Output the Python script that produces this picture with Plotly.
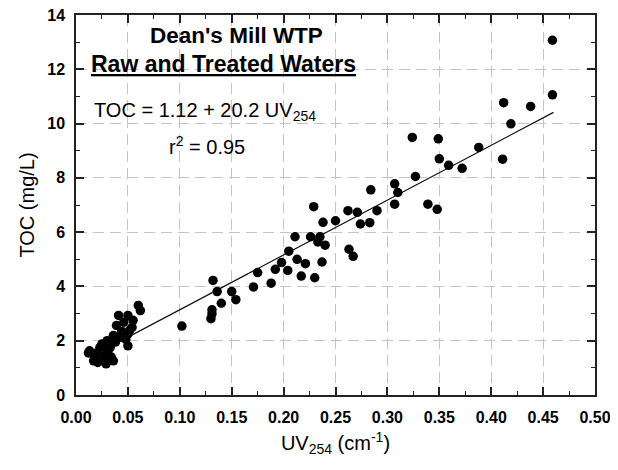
import plotly.graph_objects as go

# Measured data (UV254 in cm^-1, TOC in mg/L)
uv254 = [
    0.012, 0.013, 0.017, 0.018, 0.020, 0.021, 0.023, 0.025, 0.026, 0.027, 0.029,
    0.030, 0.031, 0.033, 0.034, 0.036, 0.036, 0.038, 0.039, 0.041, 0.042, 0.044,
    0.046, 0.048, 0.050, 0.050, 0.050, 0.052, 0.054, 0.055, 0.060, 0.062,
    0.102, 0.130, 0.131, 0.131, 0.132, 0.136, 0.140, 0.150, 0.154, 0.171, 0.175,
    0.188, 0.192, 0.198, 0.204, 0.205, 0.213, 0.217, 0.221, 0.211, 0.226, 0.229,
    0.230, 0.237, 0.235, 0.233, 0.240, 0.238, 0.250, 0.262, 0.263, 0.267, 0.271,
    0.274, 0.283, 0.284, 0.290, 0.307, 0.310, 0.307, 0.324, 0.327, 0.339, 0.348,
    0.349, 0.350, 0.359, 0.372, 0.388, 0.411, 0.412, 0.419, 0.438, 0.459, 0.459,
]
toc = [
    1.55, 1.63, 1.26, 1.35, 1.55, 1.20, 1.75, 1.88, 1.28, 1.45, 1.15,
    2.00, 1.65, 1.75, 1.40, 1.26, 2.19, 1.95, 2.56, 2.93, 2.12, 2.35,
    2.68, 2.05, 2.93, 2.25, 1.81, 2.40, 2.49, 2.75, 3.30, 3.11,
    2.54, 2.81, 2.99, 3.14, 4.22, 3.81, 3.38, 3.81, 3.51, 3.98, 4.51,
    4.12, 4.63, 4.88, 4.59, 5.30, 5.00, 4.38, 4.84, 5.83, 5.83, 6.94,
    4.32, 4.90, 5.83, 5.64, 5.52, 6.36, 6.42, 6.79, 5.37, 5.11, 6.73,
    6.30, 6.35, 7.56, 6.79, 7.78, 7.46, 7.03, 9.49, 8.05, 7.03, 6.84,
    9.44, 8.70, 8.46, 8.35, 9.12, 8.69, 10.77, 9.99, 10.63, 11.06, 13.07,
]

# Regression: TOC = 1.12 + 20.2 UV254
fit_intercept = 1.12
fit_slope = 20.2
fit_x = [0.02, 0.46]
fit_y = [fit_intercept + fit_slope * v for v in fit_x]

x_ticks = [0.00, 0.05, 0.10, 0.15, 0.20, 0.25, 0.30, 0.35, 0.40, 0.45, 0.50]
x_tick_labels = ["0.00", "0.05", "0.10", "0.15", "0.20", "0.25", "0.30", "0.35", "0.40", "0.45", "0.50"]
y_ticks = [0, 2, 4, 6, 8, 10, 12, 14]

FONT = "Arial, Liberation Sans, sans-serif"

fig = go.Figure()
fig.add_trace(go.Scatter(
    x=fit_x, y=fit_y, mode="lines",
    line=dict(color="#111111", width=1.2), showlegend=False, hoverinfo="skip",
))
fig.add_trace(go.Scatter(
    x=uv254, y=toc, mode="markers",
    marker=dict(color="#000000", size=9.5, symbol="circle", line=dict(width=0)),
    showlegend=False,
))

axis_common = dict(
    showline=True, linecolor="#222222", linewidth=1.5, mirror="allticks",
    ticks="inside", ticklen=8, tickwidth=1.5, tickcolor="#222222",
    showgrid=True, gridcolor="#c4c4c4", gridwidth=1.2, griddash="11px,6px",
    zeroline=False, automargin=False, ticklabeloverflow="allow",
    tickfont=dict(family=FONT, size=16, color="#000000", weight="bold"),
)

fig.update_xaxes(
    **axis_common,
    range=[0, 0.5], tickvals=x_ticks, ticktext=x_tick_labels, tickformat=".2f",
    ticklabelstandoff=7,
    minor=dict(ticks="inside", ticklen=4, tickwidth=1.2, tickcolor="#222222",
               dtick=0.025, tick0=0, showgrid=False),
    title=dict(text="UV<sub>254</sub> (cm<sup>-1</sup>)",
               font=dict(family=FONT, size=20, color="#000000"), standoff=11),
)
fig.update_yaxes(
    **axis_common,
    range=[0, 14], tickvals=y_ticks,
    ticklabelstandoff=6,
    minor=dict(ticks="inside", ticklen=4, tickwidth=1.2, tickcolor="#222222",
               dtick=1, tick0=0, showgrid=False),
    title=dict(text="TOC (mg/L)",
               font=dict(family=FONT, size=20, color="#000000"), standoff=7),
)

fig.add_annotation(x=0.155, y=13.25, xref="x", yref="y", showarrow=False,
                   text="<b>Dean's Mill WTP</b>",
                   font=dict(family=FONT, size=22.5, color="#000000"))
fig.add_annotation(x=0.142, y=12.2, xref="x", yref="y", showarrow=False,
                   text="<b><u>Raw and Treated Waters</u></b>",
                   font=dict(family=FONT, size=23, color="#000000"))
fig.add_annotation(x=0.124, y=10.45, xref="x", yref="y", showarrow=False,
                   text="TOC = 1.12 + 20.2 UV<sub>254</sub>",
                   font=dict(family=FONT, size=20, color="#000000"))
fig.add_annotation(x=0.126, y=9.2, xref="x", yref="y", showarrow=False,
                   text="r<sup>2</sup> = 0.95",
                   font=dict(family=FONT, size=20, color="#000000"))

# The page body adds an 8px offset; the figure size compensates so the
# plot area lands where the reference has it in the 618x470 window.
fig.update_layout(
    width=610, height=462,
    margin=dict(l=68, r=23, t=7, b=75),
    paper_bgcolor="white", plot_bgcolor="white",
    font=dict(family=FONT, color="#000000"),
)

fig.write_html("out.html")
